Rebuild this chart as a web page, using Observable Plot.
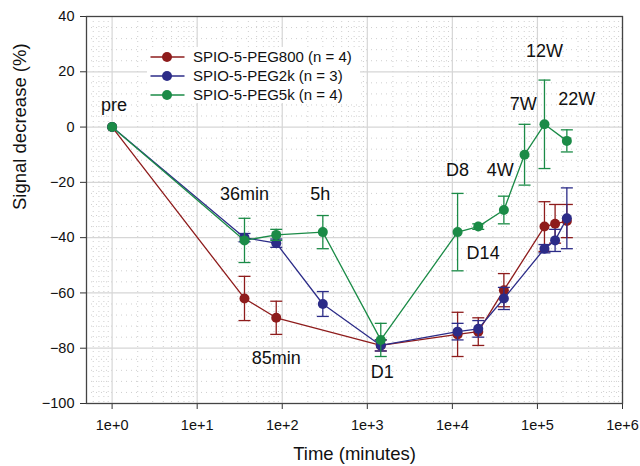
<!DOCTYPE html>
<html>
<head>
<meta charset="utf-8">
<script src="https://cdn.jsdelivr.net/npm/d3@7"></script>
<script src="https://cdn.jsdelivr.net/npm/@observablehq/plot@0.6"></script>
<style>
  html, body { margin: 0; padding: 0; background: white; }
  #wrap { position: relative; width: 640px; height: 466px; font-family: "Liberation Sans", Arial, sans-serif; }
  #legend { position: absolute; left: 147px; top: 47px; width: 213px; height: 56px; background: white; }
  .row { position: absolute; left: 0; height: 19px; display: flex; align-items: center; font-size: 15px; color: #111; }
  .row svg { margin-left: 3px; margin-right: 8px; }
</style>
</head>
<body>
<div id="wrap"></div>
<script>
// ---- Data ----
const times = [1, 36, 85, 300, 1440, 11520, 20160, 40320, 70560, 120960, 161280, 221760];

const seriesNames = ["SPIO-5-PEG800 (n = 4)", "SPIO-5-PEG2k (n = 3)", "SPIO-5-PEG5k (n = 4)"];
const seriesColors = ["#8e1c1c", "#2c2c88", "#1b8b47"];

const peg800Mean = [0, -62, -69, null, -79, -75, -74, -59, null, -36, -35, -34];
const peg800Err  = [0,   8,   6, null,   2,   8,   5,   6, null,   9,   7,   6];

const peg2kMean  = [0, -40, -42, -64, -79, -74, -73, -62, null, -44, -41, -33];
const peg2kErr   = [0, 1.5, 1.5, 4.5,   2,   3,   3,   4, null, 1.5,   4,  11];

const peg5kMean  = [0, -41, -39, -38, -77, -38, -36, -30, -10,   1, null, -5];
const peg5kErr   = [0,   8,   2,   6,   6,  14,   1,   5,  11,  16, null,  4];

const annotLabels = ["pre", "36min", "85min", "5h", "D1", "D8", "D14", "4W", "7W", "12W", "22W"];
const annotTimes  = [1.05, 36, 85, 280, 1500, 11500, 23000, 36500, 68000, 121000, 290000];
const annotValues = [8, -24.4, -83.7, -24.4, -88.8, -15.6, -45.7, -15.6, 8.3, 27.5, 10];

const xTicks = [1, 10, 100, 1000, 10000, 100000, 1000000];
const xTickLabels = ["1e+0", "1e+1", "1e+2", "1e+3", "1e+4", "1e+5", "1e+6"];
const yTicks = [-100, -80, -60, -40, -20, 0, 20, 40];

// ---- Build table ----
const means = [peg800Mean, peg2kMean, peg5kMean];
const errs = [peg800Err, peg2kErr, peg5kErr];
const rows = [];
means.forEach((m, s) => {
  m.forEach((v, i) => {
    if (v !== null) rows.push({series: seriesNames[s], t: times[i], v, e: errs[s][i]});
  });
});
const annots = annotLabels.map((l, i) => ({label: l, t: annotTimes[i], v: annotValues[i]}));
const xLabelOf = new Map(xTicks.map((t, i) => [t, xTickLabels[i]]));

// minor grid positions
const minorX = [0.6, 0.7, 0.8, 0.9];
for (let e = 0; e < 6; e++) for (let k = 2; k <= 9; k++) minorX.push(k * Math.pow(10, e));
const minorY = [];
for (let y = -96; y < 40; y += 4) if (y % 20 !== 0) minorY.push(y);

const capSymbol = { draw(ctx) { ctx.moveTo(-6, 0); ctx.lineTo(6, 0); } };
const colorOf = Object.fromEntries(seriesNames.map((n, i) => [n, seriesColors[i]]));

const seriesMarks = [];
seriesNames.forEach((name) => {
  const d = rows.filter(r => r.series === name);
  const c = colorOf[name];
  const eb = d.filter(r => r.e > 0);
  seriesMarks.push(
    Plot.line(d, {x: "t", y: "v", stroke: c, strokeWidth: 1.3}),
    Plot.ruleX(eb, {x: "t", y1: r => r.v - r.e, y2: r => r.v + r.e, stroke: c, strokeWidth: 1.3}),
    Plot.dot(eb, {x: "t", y: r => r.v - r.e, symbol: capSymbol, stroke: c, strokeWidth: 1.3, fill: "none"}),
    Plot.dot(eb, {x: "t", y: r => r.v + r.e, symbol: capSymbol, stroke: c, strokeWidth: 1.3, fill: "none"}),
    Plot.dot(d, {x: "t", y: "v", r: 5, fill: c, stroke: "none"})
  );
});

const chart = Plot.plot({
  width: 640,
  height: 466,
  marginLeft: 86,
  marginRight: 18,
  marginTop: 16,
  marginBottom: 63,
  style: {fontFamily: "'Liberation Sans', Arial, sans-serif", background: "white", color: "#111"},
  x: {type: "log", domain: [0.5, 1e6], label: null},
  y: {domain: [-100, 40], label: null},
  marks: [
    Plot.ruleX(minorX, {stroke: "#cfcfcf", strokeDasharray: "1,4", strokeWidth: 1}),
    Plot.ruleY(minorY, {stroke: "#cfcfcf", strokeDasharray: "1,4", strokeWidth: 1}),
    Plot.ruleX(xTicks, {stroke: "#d6d6d6", strokeWidth: 1.2}),
    Plot.ruleY(yTicks, {stroke: "#d6d6d6", strokeWidth: 1.2}),
    Plot.axisX(xTicks, {anchor: "bottom", tickSize: 6, tickPadding: 10, fontSize: 14.5, stroke: "#333",
      tickFormat: d => xLabelOf.get(d), label: null}),
    Plot.axisY(yTicks, {anchor: "left", tickSize: 6, tickPadding: 6, fontSize: 14.5, stroke: "#333", label: null}),
    Plot.frame({stroke: "#444", strokeWidth: 1.3}),
    ...seriesMarks,
    Plot.text(annots, {x: "t", y: "v", text: "label", fontSize: 18, fill: "#111", textAnchor: "middle"}),
    Plot.text(["Time (minutes)"], {frameAnchor: "bottom", dy: 56, fontSize: 18.5, fill: "#111"}),
    Plot.text(["Signal decrease (%)"], {frameAnchor: "left", dx: -66, rotate: -90, fontSize: 18.5, fill: "#111"})
  ]
});

const wrap = document.getElementById("wrap");
wrap.appendChild(chart);

// legend overlay
const legend = document.createElement("div");
legend.id = "legend";
seriesNames.forEach((n, i) => {
  const row = document.createElement("div");
  row.className = "row";
  row.style.top = (0.2 + 19 * i) + "px";
  const c = seriesColors[i];
  row.innerHTML = `<svg width="35" height="12"><line x1="0.5" y1="6" x2="34.5" y2="6" stroke="${c}" stroke-width="1.3"/><circle cx="17" cy="6" r="5" fill="${c}"/></svg><span>${n}</span>`;
  legend.appendChild(row);
});
wrap.appendChild(legend);
</script>
</body>
</html>
